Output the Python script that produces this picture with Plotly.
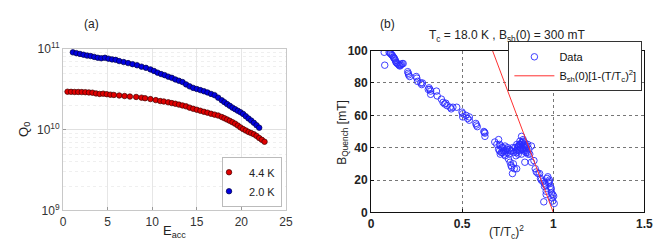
import plotly.graph_objects as go

# ---- Panel (a) data ----
e_44 = [0.5, 0.9, 1.3, 1.7, 2.1, 2.5, 2.9, 3.3, 3.7, 4.1, 4.5, 4.9, 5.3, 5.7, 6.3, 6.9, 7.5, 8.2, 8.8, 9.2,
        9.8, 10.4, 10.9, 11.3, 11.8, 12.2, 12.6, 13.0, 13.4, 13.8, 14.2, 14.6, 15.0, 15.4, 15.8, 16.2, 16.6,
        17.0, 17.4, 17.8, 18.1, 18.4, 18.7, 19.0, 19.3, 19.6, 19.9, 20.2, 20.5, 20.8, 21.1, 21.4, 21.7, 22.0,
        22.3, 22.6]
q_44 = [2.96, 2.95, 2.94, 2.94, 2.93, 2.92, 2.90, 2.88, 2.82, 2.78, 2.80, 2.76, 2.72, 2.70, 2.66, 2.62, 2.58,
        2.55, 2.50, 2.46, 2.40, 2.33, 2.27, 2.24, 2.19, 2.14, 2.10, 2.05, 2.00, 1.95, 1.88, 1.82, 1.77, 1.72,
        1.67, 1.63, 1.58, 1.54, 1.50, 1.44, 1.39, 1.34, 1.29, 1.24, 1.19, 1.13, 1.07, 1.02, 0.98, 0.94, 0.91,
        0.88, 0.84, 0.79, 0.75, 0.71]
e_20 = [1.1, 1.5, 1.9, 2.3, 2.7, 3.1, 3.5, 3.9, 4.3, 4.7, 5.1, 5.5, 5.9, 6.3, 6.8, 7.3, 7.8, 8.3, 8.8, 9.3,
        9.8, 10.2, 10.6, 11.0, 11.4, 11.8, 12.2, 12.6, 13.0, 13.4, 13.8, 14.2, 14.6, 15.0, 15.4, 15.8, 16.2,
        16.6, 17.0, 17.4, 17.8, 18.1, 18.4, 18.7, 19.0, 19.3, 19.6, 19.9, 20.2, 20.5, 20.8, 21.1, 21.4, 21.7,
        22.0]
q_20 = [9.1, 8.9, 8.7, 8.5, 8.3, 8.2, 8.0, 7.8, 7.7, 7.8, 7.6, 7.45, 7.35, 7.1, 6.9, 6.7, 6.5, 6.3, 6.05,
        5.85, 5.6, 5.35, 5.1, 4.9, 4.75, 4.55, 4.4, 4.2, 4.05, 3.9, 3.65, 3.45, 3.3, 3.2, 3.1, 3.0, 2.9, 2.78,
        2.68, 2.5, 2.32, 2.2, 2.08, 1.98, 1.88, 1.8, 1.72, 1.65, 1.57, 1.47, 1.38, 1.30, 1.22, 1.14, 1.06]
q_scale = 1e10

# ---- Panel (b) data ----
t_ratio = [0.072, 0.075, 0.099, 0.104, 0.108, 0.113, 0.117, 0.122, 0.126, 0.129, 0.133, 0.136, 0.140, 0.144,
           0.150, 0.154, 0.158, 0.162, 0.166, 0.171, 0.176, 0.201, 0.204, 0.206, 0.212, 0.248, 0.251, 0.255,
           0.273, 0.278, 0.282, 0.314, 0.318, 0.323, 0.327, 0.327, 0.359, 0.363, 0.386, 0.395, 0.404, 0.410,
           0.417, 0.434, 0.440, 0.449, 0.470, 0.499, 0.503, 0.503, 0.521, 0.530, 0.539, 0.539, 0.575, 0.578,
           0.583, 0.619, 0.622, 0.625, 0.625,
           0.679, 0.690, 0.700, 0.706, 0.700, 0.709, 0.712, 0.718, 0.722, 0.727, 0.731, 0.736, 0.740, 0.745,
           0.748, 0.754, 0.758, 0.763, 0.768, 0.772, 0.781, 0.776, 0.786, 0.799, 0.772, 0.777, 0.783, 0.790,
           0.795, 0.799, 0.803, 0.808, 0.812, 0.817, 0.821, 0.826, 0.830, 0.835, 0.840, 0.844, 0.849, 0.853,
           0.858, 0.862, 0.866, 0.871, 0.844, 0.826, 0.808, 0.817, 0.835, 0.844, 0.800, 0.810, 0.820, 0.830,
           0.840, 0.850, 0.760, 0.765, 0.750, 0.735, 0.725, 0.715, 0.705, 0.795, 0.805, 0.815, 0.825, 0.835,
           0.845, 0.855, 0.860, 0.880, 0.894, 0.880, 0.901, 0.907, 0.916, 0.925, 0.930, 0.934, 0.943, 0.952,
           0.952, 0.961, 0.961, 0.970, 0.979, 0.979, 0.984, 0.988, 0.997, 1.002, 0.997, 0.988, 1.005, 0.948,
           0.957, 0.966, 0.975, 0.990, 0.993]
b_quench = [99, 91, 99, 98.5, 98, 97.5, 97, 96, 95.5, 95, 94, 93, 92.5, 92, 91.5, 91, 90.5, 91, 91.5, 92,
            92, 87, 86, 85, 84, 84, 83, 81, 80, 79, 80, 76, 77, 76, 75, 73, 75, 72, 70, 68, 67, 67.5,
            66, 65, 64, 65, 65, 62, 61, 59, 60, 58, 59, 57, 55, 54, 53, 50, 49.5, 49, 47,
            43.5, 42, 45, 42, 39, 36, 41, 40, 37, 38, 36, 35, 38, 39, 37, 33, 36, 31, 29, 28, 30, 24, 27, 27,
            38, 40, 37, 40, 38, 37, 39, 41, 38, 44, 42, 47, 43, 45, 42, 43, 40, 38, 37, 36, 39, 36, 31, 36,
            36, 39, 39, 41, 42, 41, 40, 39, 38, 37, 39, 38, 40, 41, 40, 37, 38, 35, 40, 42, 43, 44, 40, 41,
            42, 41, 32, 31, 27, 25, 24, 24, 21, 20, 19, 18, 16, 11, 13, 22, 20, 19, 16, 15, 11, 10, 7,
            14, 5.5, 6.5, 17, 21, 18, 12, 9, 13]

fit_x = [0.6667, 1.0]
fit_y = [100, 0]

FONT = "Liberation Sans, Arial, sans-serif"
TXT = "#222222"

fig = go.Figure()

fig.add_trace(go.Scatter(
    x=e_44, y=[v * q_scale for v in q_44], mode="markers", name="4.4 K",
    marker=dict(size=5.5, color="#e00000", line=dict(color="#400000", width=0.7)),
    xaxis="x", yaxis="y", legend="legend"))
fig.add_trace(go.Scatter(
    x=e_20, y=[v * q_scale for v in q_20], mode="markers", name="2.0 K",
    marker=dict(size=5.5, color="#0000e0", line=dict(color="#000040", width=0.7)),
    xaxis="x", yaxis="y", legend="legend"))

fig.add_trace(go.Scatter(
    x=t_ratio, y=b_quench, mode="markers", name="Data",
    marker=dict(symbol="circle-open", size=6.5, color="#2a2aff", line=dict(width=0.9)),
    xaxis="x2", yaxis="y2", legend="legend2"))
fig.add_trace(go.Scatter(
    x=fit_x, y=fit_y, mode="lines",
    name="B<sub>sh</sub>(0)[1-(T/T<sub>c</sub>)<sup>2</sup>]",
    line=dict(color="#ff3030", width=1),
    xaxis="x2", yaxis="y2", legend="legend2"))

fig.update_layout(
    width=665, height=245,
    margin=dict(l=0, r=0, t=0, b=0),
    paper_bgcolor="white", plot_bgcolor="white",
    font=dict(family=FONT, size=12, color=TXT),
    xaxis=dict(domain=[53 / 665, 280 / 665], range=[0, 25], dtick=5,
               showgrid=True, gridcolor="#e6e6e6", gridwidth=1,
               showline=True, linecolor="#c8c8c8", mirror=True,
               ticks="inside", ticklen=3, tickcolor="#999999",
               zeroline=False, anchor="y", tickfont=dict(size=12, color="#333333")),
    yaxis=dict(domain=[1 - 207 / 245, 1 - 34.3 / 245], type="log", range=[9, 11],
               tickvals=[1e9, 1e10, 1e11],
               ticktext=["10<sup>9</sup>", "10<sup>10</sup>", "10<sup>11</sup>"],
               showgrid=True, gridcolor="#e0e0e0",
               minor=dict(showgrid=True, gridcolor="#efefef", griddash="dot",
                          tickvals=[k * 10 ** p for p in (9, 10) for k in range(2, 10)]),
               showline=True, linecolor="#c8c8c8", mirror=True,
               ticks="inside", ticklen=3, tickcolor="#999999",
               zeroline=False, anchor="x", tickfont=dict(size=12, color="#333333")),
    xaxis2=dict(domain=[366.7 / 665, 645 / 665], range=[0, 1.5], dtick=0.5,
                tickvals=[0, 0.5, 1, 1.5], ticktext=["<b>0</b>", "<b>0.5</b>", "<b>1</b>", "<b>1.5</b>"],
                showgrid=True, gridcolor="#777777", griddash="dot", gridwidth=1,
                showline=True, linecolor="#111111", mirror=True, linewidth=1,
                ticks="inside", ticklen=3, tickcolor="#111111",
                zeroline=False, anchor="y2", tickfont=dict(size=12, color="#222222")),
    yaxis2=dict(domain=[1 - 209 / 245, 1 - 36 / 245], range=[0, 100],
                tickvals=[0, 20, 40, 60, 80, 100],
                ticktext=["<b>0</b>", "<b>20</b>", "<b>40</b>", "<b>60</b>", "<b>80</b>", "<b>100</b>"],
                showgrid=True, gridcolor="#777777", griddash="dot", gridwidth=1,
                showline=True, linecolor="#111111", mirror=True, linewidth=1,
                ticks="inside", ticklen=3, tickcolor="#111111",
                zeroline=False, anchor="x2", tickfont=dict(size=12, color="#222222")),
    legend=dict(x=276 / 665, xanchor="right", y=1 - 203 / 245, yanchor="bottom",
                bgcolor="white", bordercolor="#bbbbbb", borderwidth=1,
                font=dict(size=11, color="#222222"), itemwidth=30,
                tracegroupgap=0, indentation=-14),
    legend2=dict(x=643 / 665, xanchor="right", y=1 - 26 / 245, yanchor="top",
                 bgcolor="white", bordercolor="#333333", borderwidth=1,
                 font=dict(size=11, color="#111111"), itemwidth=40,
                 tracegroupgap=0),
    showlegend=True,
)

ann = [
    dict(text="(a)", x=82 / 665, y=1 - 8 / 245),
    dict(text="(b)", x=383 / 665, y=1 - 7 / 245),
    dict(text="T<sub>c</sub> = 18.0 K , B<sub>sh</sub>(0) = 300 mT", x=505 / 665, y=1 - 20 / 245),
    dict(text="E<sub>acc</sub>", x=166 / 665, y=1 - 229 / 245, font_size=13),
    dict(text="(T/T<sub>c</sub>)<sup>2</sup>", x=505 / 665, y=1 - 230 / 245),
    dict(text="Q<sub>0</sub>", x=13 / 665, y=1 - 120 / 245, textangle=-90, font_size=13),
    dict(text="B<sub>Quench</sub> [mT]", x=338 / 665, y=1 - 123 / 245, textangle=-90),
]
for a in ann:
    fs = a.pop("font_size", 12)
    fig.add_annotation(xref="paper", yref="paper", showarrow=False,
                       xanchor="center", yanchor="middle",
                       font=dict(size=fs, color=TXT, family=FONT), **a)

fig.write_html("out.html")
